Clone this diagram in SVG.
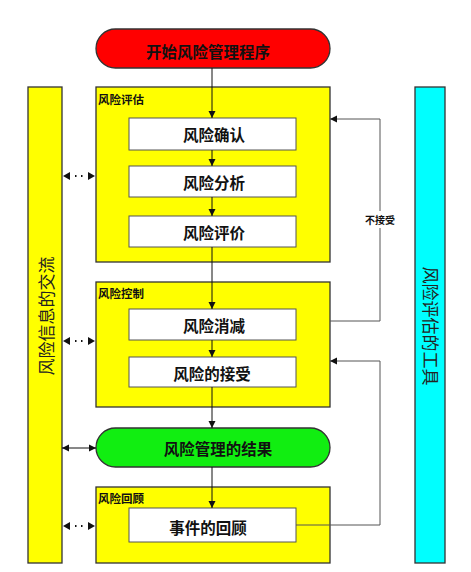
<svg xmlns="http://www.w3.org/2000/svg" width="471" height="572" viewBox="0 0 471 572">
<style>
text{font-family:"Liberation Sans","Noto Sans CJK SC",sans-serif;fill:#111}
.pilltxt{font-size:15.5px;font-weight:bold;text-anchor:middle;dominant-baseline:central}
.boxtxt{font-size:15.5px;font-weight:bold;text-anchor:middle;dominant-baseline:central}
.title{font-size:11.5px;font-weight:bold}
.vtxt{font-size:17px;text-anchor:middle;dominant-baseline:central;fill:#222}
.frame{fill:#FFFF00;stroke:#333;stroke-width:1.3}
.inner{fill:#FFFFFF;stroke:#555;stroke-width:1}
.flow{stroke:#111;stroke-width:1;fill:none}
.fb{stroke:#555;stroke-width:1;fill:none}
.dot{stroke:#111;stroke-width:2;stroke-dasharray:1.5 4.5;fill:none}
</style>
<defs>
<marker id="ah" markerUnits="userSpaceOnUse" markerWidth="8" markerHeight="8" refX="7" refY="4" orient="auto-start-reverse">
<path d="M0,0.5 L7,4 L0,7.5 z" fill="#111"/>
</marker>
</defs>

<g id="left-bar">
<rect x="28" y="87" width="34" height="476" class="frame"/>
<text class="vtxt" transform="translate(47,316) rotate(-90)">风险信息的交流</text>
</g>
<g id="right-bar">
<rect x="415" y="87" width="30" height="476" fill="#00FFFF" stroke="#333" stroke-width="1.3"/>
<text class="vtxt" transform="translate(429,326) rotate(90)">风险评估的工具</text>
</g>

<g id="start">
<rect x="96" y="29" width="234" height="39" rx="19.5" fill="#FF0000" stroke="#333" stroke-width="1.3"/>
<text class="pilltxt" x="208" y="52">开始风险管理程序</text>
</g>

<g id="assessment">
<rect x="96" y="87" width="234" height="175" class="frame"/>
<text class="title" x="98" y="104">风险评估</text>
</g>
<g id="identify">
<rect x="129" y="118" width="167" height="32" class="inner"/>
<text class="boxtxt" x="214" y="135">风险确认</text>
</g>
<g id="analysis">
<rect x="129" y="166" width="167" height="31" class="inner"/>
<text class="boxtxt" x="214" y="183">风险分析</text>
</g>
<g id="evaluation">
<rect x="129" y="216" width="167" height="31" class="inner"/>
<text class="boxtxt" x="214" y="233">风险评价</text>
</g>

<g id="control">
<rect x="96" y="282" width="234" height="125" class="frame"/>
<text class="title" x="98" y="298">风险控制</text>
</g>
<g id="reduction">
<rect x="129" y="309" width="167" height="31" class="inner"/>
<text class="boxtxt" x="214" y="326">风险消减</text>
</g>
<g id="acceptance">
<rect x="129" y="357" width="167" height="30" class="inner"/>
<text class="boxtxt" x="212" y="374">风险的接受</text>
</g>

<g id="result">
<rect x="96" y="428" width="234" height="39" rx="19.5" fill="#11EE11" stroke="#333" stroke-width="1.3"/>
<text class="pilltxt" x="218" y="449">风险管理的结果</text>
</g>

<g id="review">
<rect x="96" y="487" width="234" height="76" class="frame"/>
<text class="title" x="98" y="503">风险回顾</text>
</g>
<g id="event-review">
<rect x="129" y="508" width="167" height="34" class="inner"/>
<text class="boxtxt" x="208" y="528">事件的回顾</text>
</g>

<g id="connectors">
<line class="flow" x1="212" y1="68" x2="212" y2="118" marker-end="url(#ah)"/>
<line class="flow" x1="212" y1="150" x2="212" y2="166" marker-end="url(#ah)"/>
<line class="flow" x1="212" y1="197" x2="212" y2="216" marker-end="url(#ah)"/>
<line class="flow" x1="212" y1="247" x2="212" y2="309" marker-end="url(#ah)"/>
<line class="flow" x1="212" y1="340" x2="212" y2="357" marker-end="url(#ah)"/>
<line class="flow" x1="212" y1="387" x2="212" y2="428" marker-end="url(#ah)"/>
<line class="flow" x1="212" y1="467" x2="212" y2="508" marker-end="url(#ah)"/>

<polyline class="fb" points="330,321 380,321 380,119 330,119" marker-end="url(#ah)"/>
<polyline class="fb" points="296,525 380,525 380,361 330,361" marker-end="url(#ah)"/>
<rect x="364" y="211" width="32" height="17" fill="#FFFFFF"/>
<text class="title" x="380" y="224" text-anchor="middle" style="font-size:10px">不接受</text>

<line class="flow" x1="62" y1="448" x2="96" y2="448" marker-start="url(#ah)" marker-end="url(#ah)"/>

<path d="M63,176 L70,172 L70,180 Z M95,176 L88,172 L88,180 Z" fill="#111"/>
<line class="dot" x1="75" y1="176" x2="84" y2="176"/>
<path d="M63,341 L70,337 L70,345 Z M95,341 L88,337 L88,345 Z" fill="#111"/>
<line class="dot" x1="75" y1="341" x2="84" y2="341"/>
<path d="M63,526 L70,522 L70,530 Z M95,526 L88,522 L88,530 Z" fill="#111"/>
<line class="dot" x1="75" y1="526" x2="84" y2="526"/>
</g>
</svg>
